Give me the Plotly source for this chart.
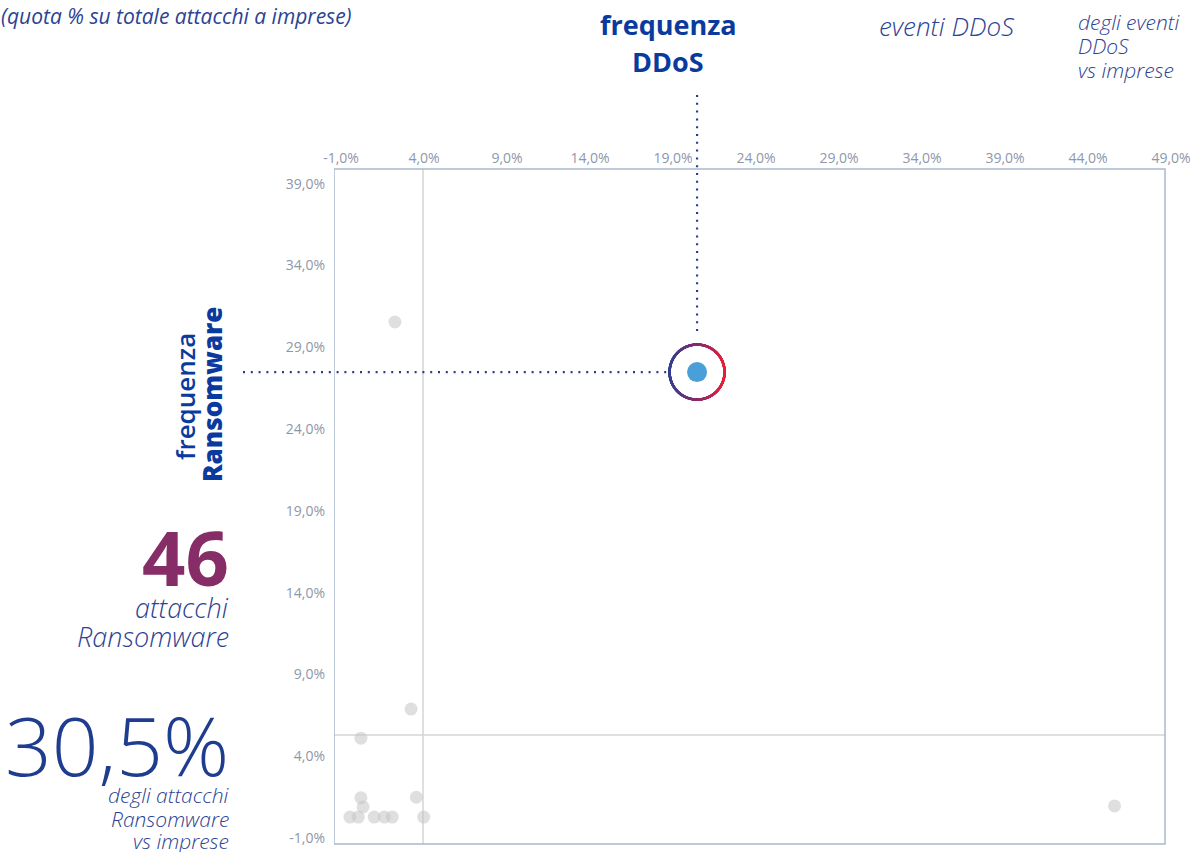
import numpy as np
import plotly.graph_objects as go

# Quota % per settore: x = eventi DDoS, y = attacchi Ransomware
ddos_share = [2.25, 3.22, 0.20, 0.20, 0.33, -0.46, 0.04, 1.00, 1.61, 2.09, 3.54, 3.98, 45.6]
ransom_share = [30.54, 6.88, 5.10, 1.46, 0.90, 0.28, 0.28, 0.28, 0.28, 0.28, 1.49, 0.28, 0.96]

# Settore evidenziato (imprese)
focus_ddos = 20.45
focus_ransom = 27.48

# Linee di riferimento (valori medi)
mean_ddos = 3.94
mean_ransom = 5.3

x_ticks = [-1, 4, 9, 14, 19, 24, 29, 34, 39, 44, 49]
y_ticks = [-1, 4, 9, 14, 19, 24, 29, 34, 39]

title_note = "(quota % su totale attacchi a imprese)"
ransom_count = "46"
ransom_pct = "30,5%"


def pct_label(v):
    return f"{v:.1f}".replace(".", ",") + "%"


# ---- layout geometry (pixels) ----
W, H = 1197, 852
L, R, T, B = 334, 1180, 169, 844
X0_PX, X_SCALE = 341, 16.6      # pixel of -1% and px per 1%
Y0_PX, Y_SCALE = 838, 16.36
xmin = -1 - (X0_PX - L) / X_SCALE
xmax = -1 + (R - X0_PX) / X_SCALE
ymin = -1 - (B - Y0_PX) / Y_SCALE
ymax = -1 + (Y0_PX - T) / Y_SCALE
frame_right = -1 + (1165 - X0_PX) / X_SCALE


def px(xp):
    return (xp - L) / (R - L)


def py(yp):
    return (B - yp) / (B - T)


def to_px_x(v):
    return L + (v - xmin) / (xmax - xmin) * (R - L)


BLUE = "#2b4394"
BLUE_STRONG = "#0b3a9e"
DOT_BLUE = "#2b3a8c"
FONT = "Open Sans"

fig = go.Figure()

# other sectors
fig.add_trace(go.Scatter(
    x=ddos_share, y=ransom_share, mode="markers",
    marker=dict(size=13, color="rgba(196,196,196,0.55)", line=dict(width=0)),
    hoverinfo="skip", showlegend=False,
))

# ring around the focus point, coloured left-to-right
ring_r = 27.5
theta = np.linspace(0, 2 * np.pi, 900)
fig.add_trace(go.Scatter(
    x=focus_ddos + ring_r / X_SCALE * np.cos(theta),
    y=focus_ransom + ring_r / Y_SCALE * np.sin(theta),
    mode="markers",
    marker=dict(size=2.4, color=np.cos(theta), cmin=-1, cmax=1,
                colorscale=[[0, "#34408f"], [0.5, "#8a2c6c"], [1, "#e5213a"]],
                line=dict(width=0)),
    hoverinfo="skip", showlegend=False,
))

# focus point
fig.add_trace(go.Scatter(
    x=[focus_ddos], y=[focus_ransom], mode="markers",
    marker=dict(size=20, color="#4b9fd9", line=dict(width=0)),
    hoverinfo="skip", showlegend=False,
))

shapes = []
# mean lines
shapes.append(dict(type="line", xref="x", yref="paper", x0=mean_ddos, x1=mean_ddos, y0=0, y1=1,
                   line=dict(color="#d4d4d4", width=1.5), layer="below"))
shapes.append(dict(type="line", xref="x", yref="y", x0=xmin, x1=frame_right, y0=mean_ransom, y1=mean_ransom,
                   line=dict(color="#d4d4d4", width=1.5), layer="below"))
# frame
shapes.append(dict(type="rect", xref="x", yref="paper", x0=xmin, x1=frame_right, y0=0, y1=1,
                   line=dict(color="#a9b8cd", width=1.5), layer="above"))

# dotted leader lines towards the focus point
gap_y = (ring_r + 9) / Y_SCALE
gap_x = (ring_r + 2) / X_SCALE
shapes.append(dict(type="line", xref="x", yref="paper",
                   x0=focus_ddos, x1=focus_ddos, y0=py(95),
                   y1=py(Y0_PX - (focus_ransom + gap_y + 1) * Y_SCALE),
                   line=dict(color=DOT_BLUE, width=2.2, dash="2px,5.8px")))
right_end = px(to_px_x(focus_ddos - gap_x))
shapes.append(dict(type="line", xref="paper", yref="y",
                   x0=px(243), x1=right_end, y0=focus_ransom, y1=focus_ransom,
                   line=dict(color=DOT_BLUE, width=2.2, dash="2px,5.8px")))

annotations = []


def note(text, xp, yp, size, xanchor="center", color=BLUE, italic=False, weight=400, angle=0):
    annotations.append(dict(
        text=text, xref="paper", yref="paper", x=px(xp), y=py(yp),
        xanchor=xanchor, yanchor="middle", showarrow=False, textangle=angle,
        font=dict(family=FONT, size=size, color=color, weight=weight,
                  style="italic" if italic else "normal"),
    ))


def block(lines, xp, ys, size, **kw):
    for t, y in zip(lines, ys):
        note(t, xp, y, size, **kw)


note(title_note, -1, 16, 21, xanchor="left", italic=True)
block(["frequenza", "DDoS"], 668, [25, 61], 27, color=BLUE_STRONG, weight=700)
note("eventi DDoS", 947, 26, 26, italic=True, weight=300)
block(["degli eventi", "DDoS", "vs imprese"], 1076, [22, 46, 70], 21, xanchor="left", italic=True, weight=300)
note("frequenza", 185, 397, 26, color=BLUE_STRONG, angle=-90, weight=600)
note("Ransomware", 212, 395, 26, color=BLUE_STRONG, angle=-90, weight=800)
note(ransom_count, 231, 556, 76, xanchor="right", color="#862d68", weight=700)
block(["attacchi", "Ransomware"], 231, [607, 636], 27, xanchor="right", italic=True, weight=300)
note(ransom_pct, 231, 744, 82, xanchor="right", color="#1f3d8f", weight=300)
block(["degli attacchi", "Ransomware", "vs imprese"], 231, [795, 819, 841], 21, xanchor="right",
      italic=True, weight=300)

fig.update_layout(
    width=W, height=H,
    margin=dict(l=L, r=W - R, t=T, b=H - B, pad=0, autoexpand=False),
    paper_bgcolor="white", plot_bgcolor="white",
    shapes=shapes, annotations=annotations,
    xaxis=dict(range=[xmin, xmax], side="top", tickvals=x_ticks, ticktext=[pct_label(v) for v in x_ticks],
               showgrid=False, zeroline=False, showline=False, ticks="", automargin=False,
               tickfont=dict(family=FONT, size=14, color="#8e97aa"), ticklabelstandoff=2),
    yaxis=dict(range=[ymin, ymax], tickvals=y_ticks, ticktext=[pct_label(v) for v in y_ticks],
               showgrid=False, zeroline=False, showline=False, ticks="", automargin=False,
               tickfont=dict(family=FONT, size=14, color="#8e97aa"), ticklabelstandoff=8),
    showlegend=False,
)

fig.write_html("out.html")
